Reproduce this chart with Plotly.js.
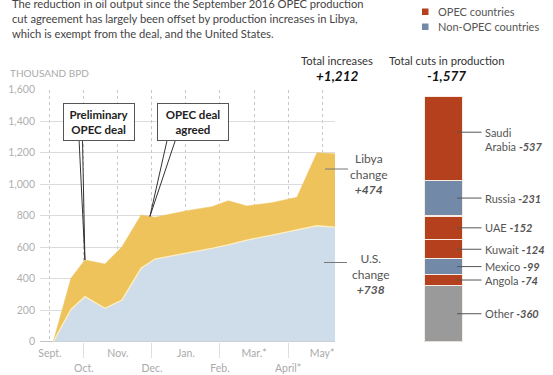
<!DOCTYPE html>
<html><head><meta charset="utf-8">
<script src="https://cdn.plot.ly/plotly-3.0.1.min.js"></script>
<style>html,body{margin:0;padding:0;background:#fff}</style>
</head><body>
<div id="chart" style="width:553px;height:375px"></div>
<script>
// ---- Data (thousand barrels per day) ----
// x positions in months since Sept. 2016 (0 = Sept., 8 = May)
var months = [0.1, 0.62, 1.03, 1.62, 2.12, 2.68, 3.09, 4.03, 4.76, 5.24, 5.79, 6.53, 7.26, 7.85, 8.38];
var usChange = [0, 205, 286, 212, 265, 466, 525, 561, 593, 615, 645, 677, 707, 736, 727];
var libyaChange = [0, 198, 233, 281, 338, 338, 265, 271, 264, 280, 217, 206, 210, 464, 466];

var monthTickVals = [0, 2, 4, 6, 8];
var monthTickText = ['Sept.', 'Nov.', 'Jan.', 'Mar.*', 'May*'];
var monthTickVals2 = [1, 3, 5, 7];
var monthTickText2 = ['Oct.', 'Dec.', 'Feb.', 'April*'];

var countries = ['Saudi<br>Arabia', 'Russia', 'UAE', 'Kuwait', 'Mexico', 'Angola', 'Other'];
var cuts = [-537, -231, -152, -124, -99, -74, -360];
var groups = ['OPEC', 'Non-OPEC', 'OPEC', 'OPEC', 'Non-OPEC', 'OPEC', 'Other'];

var totalIncreases = 1212;
var totalCuts = -1577;
var libyaLabel = 474;
var usLabel = 738;

var preliminaryDealMonth = 1.03;
var agreedDealMonth = 2.94;

// ---- helpers ----
var W = 553, H = 375;
function fx(px){ return px / W; }
function fy(py){ return 1 - py / H; }
var colors = {'OPEC':'#b4401d', 'Non-OPEC':'#7389a8', 'Other':'#9a9a9a'};
var FONT = 'Lato, "Open Sans", sans-serif';
function fmt(v){ var s = Math.abs(v).toLocaleString('en-US'); return (v < 0 ? '-' : '+') + s; }
function interpTotal(m){
  for (var i = 0; i < months.length - 1; i++) {
    if (m >= months[i] && m <= months[i+1]) {
      var t = (m - months[i]) / (months[i+1] - months[i]);
      var a = usChange[i] + libyaChange[i], b = usChange[i+1] + libyaChange[i+1];
      return a + t * (b - a);
    }
  }
  return 0;
}

var traces = [
  {x: months, y: usChange, type: 'scatter', mode: 'lines', stackgroup: 'one',
   fillcolor: '#cfdcea', line: {color: '#fbefc4', width: 1.3}, hoverinfo: 'skip'},
  {x: months, y: libyaChange, type: 'scatter', mode: 'lines', stackgroup: 'one',
   fillcolor: '#efc35c', line: {color: '#efc35c', width: 0.5}, hoverinfo: 'skip'},
  // empty trace so that the second-row month axis is drawn
  {x: [], y: [], type: 'scatter', mode: 'lines', xaxis: 'x3', yaxis: 'y', hoverinfo: 'skip'}
];

// stacked bar: draw from bottom (Other) to top (Saudi Arabia)
var shapes = [];
var annotations = [];
var cum = 0;
for (var i = countries.length - 1; i >= 0; i--) {
  var v = Math.abs(cuts[i]);
  traces.push({x: [0], y: [v], width: [1], type: 'bar', xaxis: 'x2', yaxis: 'y2',
    marker: {color: colors[groups[i]], line: {color: '#f6ece4', width: 1.2}}, hoverinfo: 'skip'});
  var mid = cum + v / 2;
  var multi = countries[i].indexOf('<br>') >= 0;
  var lineY = multi ? mid + 40 : mid;
  shapes.push({type: 'line', xref: 'paper', yref: 'y2', x0: fx(457), x1: fx(481.5), y0: lineY, y1: lineY,
    line: {color: '#555', width: 1}});
  annotations.push({xref: 'paper', yref: 'y2', x: fx(483), y: lineY, xanchor: 'left', yanchor: multi ? 'top' : 'middle',
    yshift: multi ? 8 : 0, align: 'left', showarrow: false,
    text: countries[i] + ' <b><i>' + cuts[i] + '</i></b>', font: {family: FONT, size: 11, color: '#555'}});
  cum += v;
}

// callout wedges
var tip1 = {x: preliminaryDealMonth, y: interpTotal(preliminaryDealMonth)};
var tip2 = {x: agreedDealMonth, y: interpTotal(agreedDealMonth)};
shapes.push({type: 'path', xref: 'x', yref: 'y',
  path: 'M 0.86,1274 L ' + tip1.x + ',' + tip1.y + ' L 0.96,1274', line: {color: '#333', width: 1}});
shapes.push({type: 'path', xref: 'x', yref: 'y',
  path: 'M 3.44,1274 L ' + tip2.x + ',' + tip2.y + ' L 3.68,1274', line: {color: '#333', width: 1}});

// leader lines for Libya and U.S.
shapes.push({type: 'line', xref: 'paper', yref: 'paper', x0: fx(325), x1: fx(348), y0: fy(169), y1: fy(169), line: {color: '#777', width: 1}});
shapes.push({type: 'line', xref: 'paper', yref: 'paper', x0: fx(324), x1: fx(347), y0: fy(262.5), y1: fy(262.5), line: {color: '#777', width: 1}});

// legend squares
shapes.push({type: 'rect', xref: 'paper', yref: 'paper', x0: fx(422), x1: fx(428.5), y0: fy(8.5), y1: fy(15), fillcolor: colors['OPEC'], line: {width: 0}});
shapes.push({type: 'rect', xref: 'paper', yref: 'paper', x0: fx(422), x1: fx(428.5), y0: fy(23.5), y1: fy(30), fillcolor: colors['Non-OPEC'], line: {width: 0}});

var subtitle = ['The reduction in oil output since the September 2016 OPEC production',
  'cut agreement has largely been offset by production increases in Libya,',
  'which is exempt from the deal, and the United States.'];
subtitle.forEach(function(t, k){
  annotations.push({xref: 'paper', yref: 'paper', x: fx(10), y: fy(3.5 + 15 * k), xanchor: 'left', yanchor: 'middle',
    showarrow: false, text: t, font: {family: FONT, size: 11.2, color: '#444'}});
});

annotations.push(
  {xref: 'paper', yref: 'paper', x: fx(8), y: fy(73), xanchor: 'left', yanchor: 'middle', showarrow: false,
   text: 'THOUSAND BPD', font: {family: FONT, size: 10, color: '#aaa'}},
  {xref: 'paper', yref: 'paper', x: fx(436), y: fy(11.7), xanchor: 'left', yanchor: 'middle', showarrow: false,
   text: 'OPEC countries', font: {family: FONT, size: 11, color: '#555'}},
  {xref: 'paper', yref: 'paper', x: fx(436), y: fy(26.7), xanchor: 'left', yanchor: 'middle', showarrow: false,
   text: 'Non-OPEC countries', font: {family: FONT, size: 11, color: '#555'}},
  {xref: 'paper', yref: 'paper', x: fx(337), y: fy(60), xanchor: 'center', yanchor: 'middle', showarrow: false,
   text: 'Total increases', font: {family: FONT, size: 11.2, color: '#333'}},
  {xref: 'paper', yref: 'paper', x: fx(337), y: fy(75.5), xanchor: 'center', yanchor: 'middle', showarrow: false,
   text: '<b><i>' + fmt(totalIncreases) + '</i></b>', font: {family: FONT, size: 13.5, color: '#111'}},
  {xref: 'paper', yref: 'paper', x: fx(446), y: fy(60), xanchor: 'center', yanchor: 'middle', showarrow: false,
   text: 'Total cuts in production', font: {family: FONT, size: 11.2, color: '#333'}},
  {xref: 'paper', yref: 'paper', x: fx(446), y: fy(75.5), xanchor: 'center', yanchor: 'middle', showarrow: false,
   text: '<b><i>' + fmt(totalCuts) + '</i></b>', font: {family: FONT, size: 13.5, color: '#111'}},
  {xref: 'paper', yref: 'paper', x: fx(369), y: fy(174), xanchor: 'center', yanchor: 'middle', showarrow: false,
   text: 'Libya<br>change<br><b><i>' + fmt(libyaLabel) + '</i></b>', font: {family: FONT, size: 12, color: '#555'}},
  {xref: 'paper', yref: 'paper', x: fx(371), y: fy(273.5), xanchor: 'center', yanchor: 'middle', showarrow: false,
   text: 'U.S.<br>change<br><b><i>' + fmt(usLabel) + '</i></b>', font: {family: FONT, size: 12, color: '#555'}},
  {xref: 'paper', yref: 'paper', x: fx(99), y: fy(122), xanchor: 'center', yanchor: 'middle', showarrow: false,
   text: '<b>Preliminary<br>OPEC deal</b>', width: 70, height: 36, borderpad: 0, bgcolor: '#fff',
   bordercolor: '#555', borderwidth: 1, font: {family: FONT, size: 11.5, color: '#222'}},
  {xref: 'paper', yref: 'paper', x: fx(193.3), y: fy(122), xanchor: 'center', yanchor: 'middle', showarrow: false,
   text: '<b>OPEC deal<br>agreed</b>', width: 70, height: 36, borderpad: 0, bgcolor: '#fff',
   bordercolor: '#555', borderwidth: 1, font: {family: FONT, size: 11.5, color: '#222'}}
);

var yDomain = [fy(341.7), fy(89.7)];
var layout = {
  width: W, height: H, margin: {l: 0, r: 0, t: 0, b: 0},
  paper_bgcolor: '#fff', plot_bgcolor: 'rgba(0,0,0,0)', showlegend: false,
  font: {family: FONT},
  barmode: 'stack',
  xaxis: {domain: [fx(40), fx(335)], range: [-0.29, 8.38], anchor: 'y',
    tickvals: monthTickVals, ticktext: monthTickText, showgrid: true, gridcolor: '#c8c8c8', griddash: 'dot',
    gridwidth: 1, zeroline: false, showline: false, ticks: '', ticklabelstandoff: 4,
    tickfont: {family: FONT, size: 10.5, color: '#aaa'}},
  xaxis3: {overlaying: 'x', anchor: 'y', range: [-0.29, 8.38], tickvals: monthTickVals2, ticktext: monthTickText2,
    showgrid: true, gridcolor: '#c8c8c8', griddash: 'dot', gridwidth: 1, zeroline: false, showline: false,
    ticks: 'outside', ticklen: 15, tickcolor: '#dedede', tickwidth: 1, ticklabelstandoff: 2,
    tickfont: {family: FONT, size: 10.5, color: '#aaa'}},
  yaxis: {domain: yDomain, range: [0, 1600], dtick: 200, tickformat: ',d', anchor: 'x',
    gridcolor: '#dcdcdc', zeroline: true, zerolinecolor: '#c4c4c4', showline: false, ticks: '',
    ticklabelstandoff: 4, tickfont: {family: FONT, size: 10.5, color: '#b0b0b0'}},
  xaxis2: {domain: [fx(424), fx(463)], range: [-0.5, 0.5], anchor: 'y2', visible: false},
  yaxis2: {domain: yDomain, range: [0, 1577 * 252 / 245], anchor: 'x2', visible: false},
  shapes: shapes,
  annotations: annotations
};

Plotly.newPlot('chart', traces, layout, {displayModeBar: false, staticPlot: true});
</script>
</body></html>
